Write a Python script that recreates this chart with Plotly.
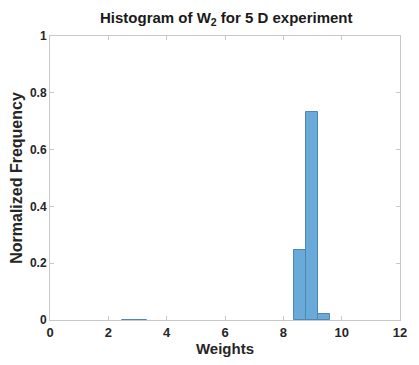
import plotly.graph_objects as go

bin_left = [2.47, 2.89, 8.35, 8.77, 9.19]
bin_width = 0.42
freq = [0.001, 0.001, 0.248, 0.731, 0.021]
x_ticks = [0, 2, 4, 6, 8, 10, 12]
y_ticks = [0, 0.2, 0.4, 0.6, 0.8, 1]
y_tick_text = ["0", "0.2", "0.4", "0.6", "0.8", "1"]

centers = [b + bin_width / 2 for b in bin_left]

FONT = "Liberation Sans, Arial, sans-serif"

fig = go.Figure()
fig.add_trace(go.Bar(
    x=centers, y=freq, width=[bin_width] * len(freq),
    marker=dict(color="#6aaad8", line=dict(color="#4f86b5", width=1)),
    showlegend=False,
))

axis_common = dict(
    showgrid=False, zeroline=False, showline=True, mirror="ticks",
    linecolor="#c8c8c8", linewidth=1, ticks="inside", ticklen=4,
    tickcolor="#c8c8c8",
)

fig.update_layout(
    width=419, height=365,
    margin=dict(l=50, r=14, t=36, b=44),
    paper_bgcolor="white", plot_bgcolor="white",
    bargap=0,
    title=dict(
        text="<b>Histogram of W<sub>2</sub> for 5 D experiment</b>",
        x=0.54, xanchor="center", y=0.952, yanchor="middle",
        font=dict(family=FONT, size=15, color="#1a1a1a"),
    ),
    xaxis=dict(range=[0, 12], tickvals=x_ticks, **axis_common,
               tickfont=dict(family=FONT, size=13, color="#262626", weight="bold"),
               title=dict(text="<b>Weights</b>", standoff=3,
                          font=dict(family=FONT, size=15, color="#262626"))),
    yaxis=dict(range=[0, 1], tickvals=y_ticks, ticktext=y_tick_text, **axis_common,
               tickfont=dict(family=FONT, size=12, color="#262626", weight="bold"),
               title=dict(text="<b>Normalized Frequency</b>", standoff=3,
                          font=dict(family=FONT, size=16, color="#262626"))),
)

fig.write_html("out.html")
